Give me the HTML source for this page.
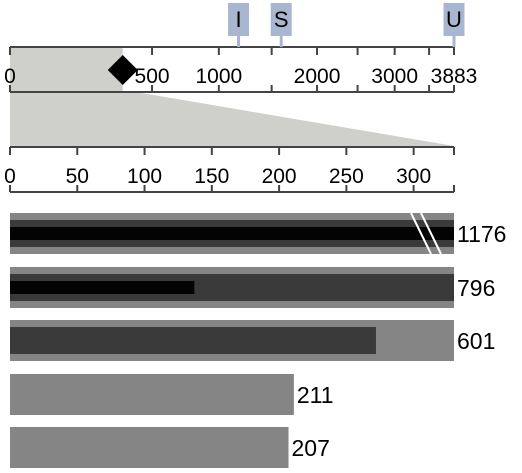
<!DOCTYPE html>
<html><head><meta charset="utf-8">
<style>
html,body{margin:0;padding:0;background:#fff;}
svg{display:block;font-family:"Liberation Sans",Arial,sans-serif;}
</style></head>
<body>
<svg id="chart" width="522" height="473" viewBox="0 0 522 473"></svg>
<script>
const topTicks = [0, 500, 1000, 1500, 2000, 2500, 3000, 3500, 3883];
const topLabels = ["0", "500", "1000", "", "2000", "", "3000", "", "3883"];
const topMax = 3883;
const zoomMax = 330;
const zoomTicks = [0, 50, 100, 150, 200, 250, 300, 330];
const zoomLabels = ["0", "50", "100", "150", "200", "250", "300", ""];
const markerNames = ["I", "S", "U"];
const markerValues = [1176, 1600, 3883];
const diamondValue = 330;
const rangeValues = [1176, 796, 601, 211, 207];
const measureValues = [1176, 796, 272, 0, 0];
const innerValues = [1176, 137, 0, 0, 0];

const NS = "http://www.w3.org/2000/svg";
const svg = document.getElementById("chart");
const X0 = 10, X1 = 454;
function xTop(v){ return X0 + (X1 - X0) * Math.pow(Math.max(v,0) / topMax, 0.556); }
function xZoom(v){ return X0 + (X1 - X0) * Math.min(v, zoomMax) / zoomMax; }
function mk(tag, attrs){ const e = document.createElementNS(NS, tag); for (const k in attrs) e.setAttribute(k, attrs[k]); svg.appendChild(e); return e; }

let shade = mk("rect", {x: X0, y: 47, width: xTop(zoomMax) - X0, height: 45, fill: "#cfcfcb"});


let trap = mk("polygon", {points: `${X0},92 ${xTop(zoomMax)+13},92 ${X1},146 ${X0},146`, fill: "#cfcfcb"});



function axisFrame(y1, y2, ticks, labels, fx, name){
  let g = mk("g", {stroke: "#444", "stroke-width": 2});
  
  
  [[X0,y1,X1,y1],[X0,y2,X1,y2]].forEach(c=>{ const l=document.createElementNS(NS,"line"); l.setAttribute("x1",c[0]);l.setAttribute("y1",c[1]);l.setAttribute("x2",c[2]);l.setAttribute("y2",c[3]); g.appendChild(l); });
  ticks.forEach((t,i)=>{
    const x = fx(t);
    [[y1,y1+8],[y2-7,y2]].forEach(c=>{ const l=document.createElementNS(NS,"line"); l.setAttribute("x1",x);l.setAttribute("x2",x);l.setAttribute("y1",c[0]);l.setAttribute("y2",c[1]); g.appendChild(l); });
  });
  ticks.forEach((t,i)=>{
    if (labels[i]) {
      let tx = mk("text", {x: fx(t), y: y2 - 9, "font-size": 21, "text-anchor": "middle", fill: "#000"});
      tx.textContent = labels[i];
      
      
    }
  });
}
axisFrame(47, 92, topTicks, topLabels, xTop, "overview-axis");
axisFrame(147, 192, zoomTicks, zoomLabels, xZoom, "zoom-axis");

let dx = xTop(diamondValue);
let dia = mk("polygon", {points: `${dx},55 ${dx+15},70 ${dx},85 ${dx-15},70`, fill: "#000"});



markerNames.forEach((n,i)=>{
  const x = xTop(markerValues[i]);
  let st = mk("line", {x1: x, x2: x, y1: 30, y2: 47, stroke: "#a9b6cf", "stroke-width": 3});
  
  
  let bx = mk("rect", {x: x - 10.5, y: 3, width: 21, height: 33, fill: "#a9b6cf"});
  
  
  let t = mk("text", {x: x, y: 27, "font-size": 22, "text-anchor": "middle", fill: "#000"});
  t.textContent = n;
  
  
});

const rowTop = [213, 267, 320, 374, 427];
rangeValues.forEach((v,i)=>{
  const y = rowTop[i];
  let r = mk("rect", {x: X0, y: y, width: xZoom(v) - X0, height: 41, fill: "#858585"});
  
  
  if (measureValues[i] > 0) {
    let m = mk("rect", {x: X0, y: y + 7, width: xZoom(measureValues[i]) - X0, height: 27, fill: "#3b3a3a"});
    
    
  }
  if (innerValues[i] > 0) {
    let b = mk("rect", {x: X0, y: y + 14, width: xZoom(innerValues[i]) - X0, height: 13, fill: "#030303"});
    
    
  }
  if (innerValues[i] > zoomMax) {
    [411, 421].forEach(bxp=>{
      let l = mk("line", {x1: bxp, y1: y, x2: bxp + 20, y2: y + 41, stroke: "#fff", "stroke-width": 2});
      
      
    });
  }
  let t = mk("text", {x: xZoom(v) + 3, y: y + 29, "font-size": 23, fill: "#000"});
  t.textContent = String(v);
  
  
});
</script>
</body></html>
